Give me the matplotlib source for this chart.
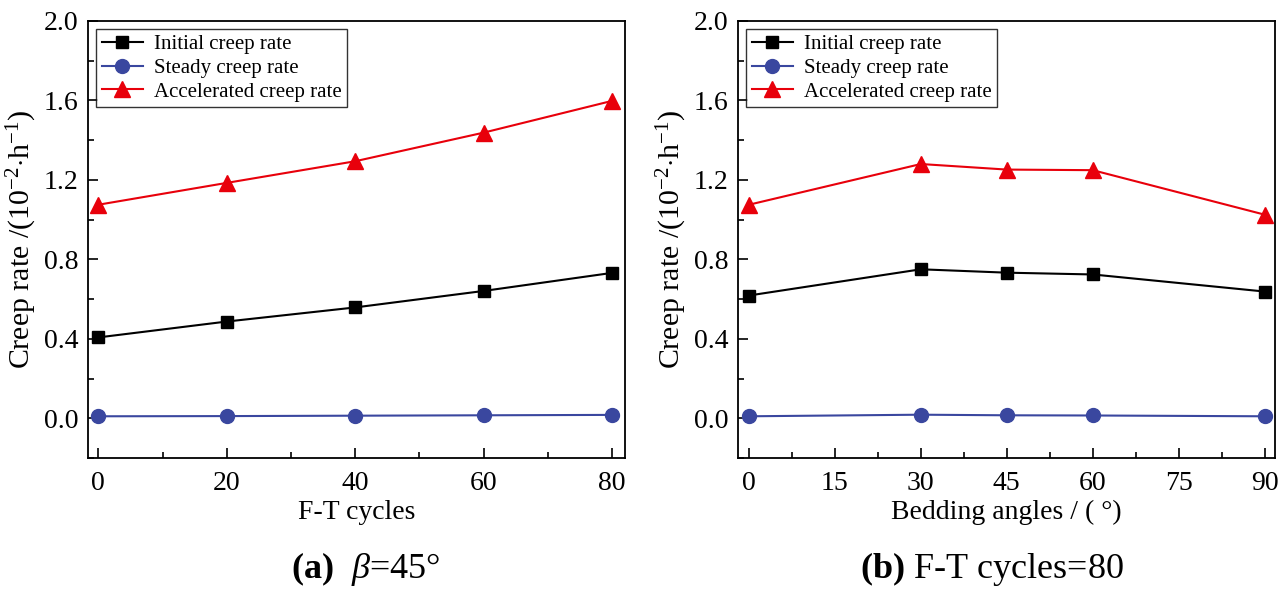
import matplotlib
matplotlib.use("Agg")
import matplotlib.pyplot as plt
from matplotlib.ticker import MultipleLocator, FormatStrFormatter

plt.rcParams['font.family'] = ['Liberation Serif', 'DejaVu Serif']
plt.rcParams['mathtext.fontset'] = 'custom'
plt.rcParams['mathtext.rm'] = 'Liberation Serif'
plt.rcParams['mathtext.it'] = 'Liberation Serif:italic'
plt.rcParams['mathtext.bf'] = 'Liberation Serif:bold'

# Panel (a): F-T cycles, beta = 45 deg
ft_cycles = [0, 20, 40, 60, 80]
a_initial = [0.407, 0.487, 0.558, 0.641, 0.732]
a_steady = [0.010, 0.011, 0.013, 0.015, 0.017]
a_accel = [1.075, 1.185, 1.294, 1.438, 1.598]

# Panel (b): bedding angles, F-T cycles = 80
angles = [0, 30, 45, 60, 90]
b_initial = [0.618, 0.750, 0.733, 0.724, 0.638]
b_steady = [0.010, 0.018, 0.015, 0.014, 0.010]
b_accel = [1.075, 1.280, 1.252, 1.249, 1.025]

series_labels = ['Initial creep rate', 'Steady creep rate', 'Accelerated creep rate']
ylabel = 'Creep rate /(10$^{\\mathrm{-}2}$$\\cdot$h$^{\\mathrm{-}1}$)'

black = '#000000'
blue = '#3A479F'
red = '#E8000B'

fig = plt.figure(figsize=(12.87, 5.92), dpi=100)
axa = fig.add_axes([88/1287, 1-458/592, (625-88)/1287, (458-21)/592])
axb = fig.add_axes([738/1287, 1-458/592, (1275-738)/1287, (458-21)/592])

def draw(ax, x, ini, ste, acc, xlim, xmajor, xminor, xlabel):
    ax.plot(x, ini, color=black, lw=1.5, marker='s', ms=9, label=series_labels[0])
    ax.plot(x, ste, color=blue, lw=1.5, marker='o', ms=10, label=series_labels[1])
    ax.plot(x, acc, color=red, lw=1.5, marker='^', ms=11, label=series_labels[2])
    ax.set_xlim(*xlim)
    ax.set_ylim(-0.2, 2.0)
    ax.xaxis.set_major_locator(MultipleLocator(xmajor))
    ax.xaxis.set_minor_locator(MultipleLocator(xminor))
    ax.yaxis.set_major_locator(MultipleLocator(0.4))
    ax.yaxis.set_minor_locator(MultipleLocator(0.2))
    ax.yaxis.set_major_formatter(FormatStrFormatter('%.1f'))
    ax.tick_params(which='both', direction='in', labelsize=20, width=1.2)
    ax.tick_params(which='major', length=7)
    ax.tick_params(axis='x', which='major', pad=9)
    ax.tick_params(axis='y', which='major', pad=7)
    ax.tick_params(which='minor', length=4)
    for s in ax.spines.values():
        s.set_linewidth(1.3)
    ax.set_xlabel(xlabel, fontsize=20, labelpad=3)
    ax.set_ylabel(ylabel, fontsize=21.5, labelpad=3)
    leg = ax.legend(loc='upper left', fontsize=15, frameon=True, fancybox=False,
                    edgecolor='black', borderaxespad=0.4, handlelength=2.0,
                    labelspacing=0.2, borderpad=0.25, handletextpad=0.5)
    leg.get_frame().set_linewidth(1.0)

draw(axa, ft_cycles, a_initial, a_steady, a_accel, (-1.6, 82), 20, 10, 'F-T cycles')
draw(axb, angles, b_initial, b_steady, b_accel, (-1.9, 91.8), 15, 7.5, 'Bedding angles / ( °)')

fig.text(366/1287, 1-569/592, r'$\mathbf{(a)}$  $\beta$=45°', fontsize=26, ha='center', va='center')
fig.text(992/1287, 1-569/592, r'$\mathbf{(b)}$ F-T cycles=80', fontsize=26, ha='center', va='center')

fig.savefig('out.png', dpi=100)
